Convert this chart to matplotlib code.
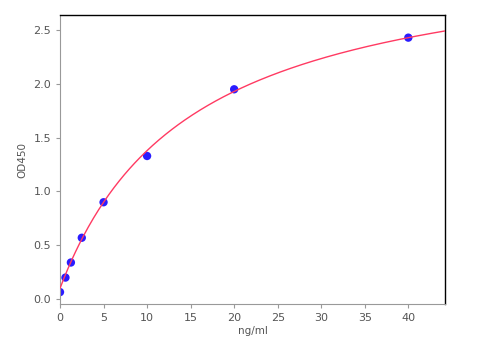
import numpy as np
import matplotlib
matplotlib.use("Agg")
import matplotlib.pyplot as plt

conc = [0, 0.625, 1.25, 2.5, 5, 10, 20, 40]
od = [0.065, 0.20, 0.34, 0.57, 0.90, 1.33, 1.95, 2.43]
xticks = [0, 5, 10, 15, 20, 25, 30, 35, 40]
yticks = [0.0, 0.5, 1.0, 1.5, 2.0, 2.5]

# fitted curve parameters (hyperbolic fit)
fit_a, fit_d, fit_c = 0.10, 3.206, 15.04

fig = plt.figure(figsize=(4.82, 3.42), dpi=100)
ax = fig.add_axes([0.1245, 0.111, 0.7985, 0.845])
xs = np.linspace(0, 44.2, 300)
ax.scatter(conc, od, s=36, color='#2a1cff', zorder=2, edgecolors='none')
ax.plot(xs, fit_a + fit_d * xs / (fit_c + xs), color='#ff3a62', lw=1.0, zorder=3)
ax.set_xlim(0, 44.2)
ax.set_ylim(-0.046, 2.64)
ax.set_xticks(xticks)
ax.set_yticks(yticks)
ax.set_xticklabels([str(t) for t in xticks])
ax.set_yticklabels([f"{t:.1f}" for t in yticks])
for s in ['left', 'bottom']:
    ax.spines[s].set_color('#999999')
    ax.spines[s].set_linewidth(0.8)
for s in ['top', 'right']:
    ax.spines[s].set_color('black')
    ax.spines[s].set_linewidth(1.0)
ax.tick_params(colors='#999999', labelcolor='#555555', labelsize=8, length=3, width=0.8, direction='out')
ax.tick_params(top=False, right=False)
ax.set_xlabel('ng/ml', fontsize=7.5, color='#555555', labelpad=2)
ax.set_ylabel('OD450', fontsize=7.5, color='#555555', labelpad=4)
fig.savefig('out.png', dpi=100)
